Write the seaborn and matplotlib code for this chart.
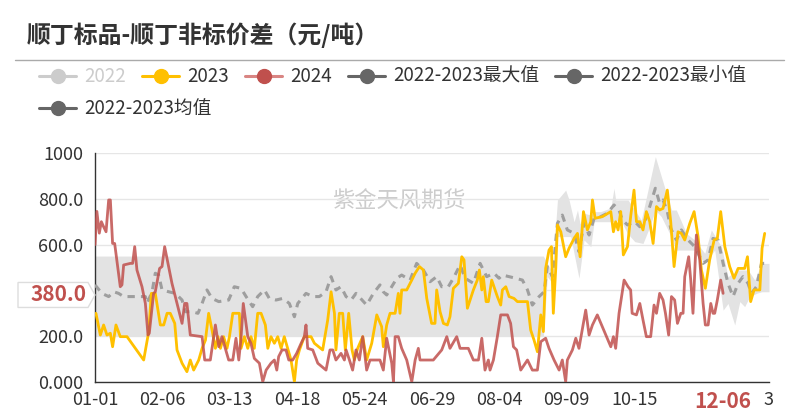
import numpy as np
import matplotlib
matplotlib.use('Agg')
import matplotlib.pyplot as plt
import matplotlib.transforms as mtransforms
from matplotlib.patches import Polygon
from matplotlib.lines import Line2D
import seaborn as sns
import pandas as pd

sns.set_theme(style='white')
plt.rcParams['font.family'] = ['Noto Sans CJK SC', 'DejaVu Sans']

# ---------------- data ----------------
title = '顺丁标品-顺丁非标价差（元/吨）'
watermark = '紫金天风期货'
x_tick_pos = [0, 36, 72, 108, 144, 180, 216, 252, 288, 324, 360]
x_tick_labels = ['01-01', '02-06', '03-13', '04-18', '05-24', '06-29', '08-04', '09-09', '10-15', '', '3']
y_ticks = [0, 200, 400, 600, 800, 1000]
y_tick_labels = ['0.000', '200.0', '', '600.0', '800.0', '1000']
pointer_x_label = '12-06'
pointer_x_pos = 335.5
pointer_y_value = 380.0
legend_names = ['2022', '2023', '2024', '2022-2023最大值', '2022-2023最小值', '2022-2023均值']

# (day index, value)
s2023 = [(0.5,300),(2.85,205),(4.6,249),(6.4,205),(8.2,213),(9.4,154),(11.2,249),(13.5,198),(17.1,198),(26,96),(28.7,220),(30.1,387),(32.2,387),(34.9,249),(36.7,249),(38.5,300),(40.2,300),(42.6,256),(43.8,140),(46.5,82),(49.1,45),(50.9,96),(52.7,52),(55.4,96),(57.2,147),(59,183),(60.7,300),(62.5,227),(64.3,147),(65.7,198),(67,147),(68.7,198),(70.5,147),(71.8,198),
         (73.6,300),(77.1,300),(78,147),(79.8,198),(81.6,147),(83.3,198),(85.1,147),(86.9,300),(88.7,300),(91,249),(92.3,147),(94,198),(95.8,169),(97.6,198),(99.4,147),(101.1,198),(102.9,147),(104.7,96),(106.5,1),(107.7,96),(109.2,140),(111.8,198),(115.4,198),(117.2,169),(121.6,140),(124.3,271),(126.1,394),(127.9,300),(128.7,140),(130.5,300),(132.3,300),(133.7,140),(135.5,300),(137.3,140),(138.5,96),(140.3,147),(143,198),
         (145.1,96),(147.8,169),(150.5,293),(153.1,242),(154,154),(155.8,249),(157.6,300),(160.3,300),(162,387),(162.9,300),(163.8,402),(166.5,402),(169.2,445),(171,475),(173.3,504),(175.4,489),(177.2,365),(179.8,256),(181.6,256),(182.5,402),(184.3,307),(186.1,256),(188.2,249),(189.6,285),(191.4,409),(194.1,431),(195.9,547),(197.1,533),(198.9,322),(202.1,402),(204.2,445),(205.3,489),(206.6,402),(207.4,460),(208.9,351),(210.1,351),(211.9,445),
         (213.1,416),(214.9,373),(216.7,336),(217.6,402),(219.4,416),(221.2,373),(223.8,365),(225.6,351),(231,351),(232.7,227),(234.5,183),(236.3,132),(238.1,293),(239.5,220),(240.7,496),(242.5,576),(243.8,591),(244.8,300),(246.1,496),(247,686),(248.8,656),(251.4,547),(253.2,584),(255.9,627),(257.7,649),(259.1,547),(260.9,744),(263,664),(264.8,700),(265.7,795),(267.1,715),(271,722),(275.5,744),(276.9,656),(278.1,700),(279.4,664),(280.8,744),(282.2,555),(284.4,591),(286.1,722),
         (287.9,838),(289.2,700),(291,700),(292.7,664),(294.5,744),(296.3,700),(298.1,605),(299.9,766),(301.6,751),(303.4,758),(305.7,838),(307.5,700),(309.3,504),(311.4,656),(313.2,649),(315,620),(317.7,693),(320,744),(322.1,635),(323.9,489),(326,409),(328.3,533),(330.7,620),(332.4,627),(334.2,744),(336.4,591),(339,504),(341.3,453),(343.5,496),(347,496),(348.5,547),(350.2,351),(352,402),(355.1,402),(356.3,584),(357.7,649)]

s2024 = [(0,600),(1,745),(2.3,650),(3.4,700),(4.6,678),(5.9,656),(7.3,795),(8.2,795),(9.4,605),(10.5,605),(13.5,416),(14.4,424),(15.3,511),(18.9,518),(20.1,518),(21.2,591),(22.4,489),(25.1,416),(26.9,343),(28.3,205),(29,213),(31.3,387),(32.2,394),(34.5,496),(35.8,504),(37.2,591),(41.1,431),(46.5,256),(47.9,343),(49.1,343),(50.9,205),(57.2,198),(58.6,96),(61.6,96),(64.3,249),(66.1,154),(67.8,198),(71.4,96),
         (73.6,96),(75.3,191),(76.8,96),(78,191),(79.2,343),(81.6,198),(83.3,169),(85.1,103),(87.8,82),(89.6,1),(91.4,52),(94,82),(95.8,96),(97.1,52),(98.1,111),(99.9,140),(102,140),(103.5,96),(105.6,96),(107.7,125),(110.1,169),(111.8,198),(112.7,249),(113.6,147),(116.3,140),(119,82),(123.4,52),(125.5,140),(127,140),(128.7,96),(131.4,125),(133.2,96),(134.1,140),(135.9,96),(137.6,52),(139.4,140),(141.2,96),(143,198),
         (145.1,52),(146.9,96),(152.2,96),(154,52),(155.8,191),(158.5,82),(159.4,1),(160.3,198),(162,198),(163.8,147),(166.5,96),(169.2,1),(171,96),(172.7,147),(173.6,96),(175.4,96),(180.7,96),(185.2,140),(187.9,198),(189.6,147),(193.2,198),(195,147),(199.4,147),(202.1,96),(204.8,96),(206.6,191),(208.3,52),(210.1,96),(211,52),(212.8,96),
         (214.9,198),(216.7,293),(220.3,293),(222,256),(223.5,154),(225.2,140),(227.4,52),(231,96),(233.6,52),(236.3,52),(238.1,176),(240.7,191),(242.5,147),(245.2,96),(247.9,52),(249.6,96),(251.4,1),(252.3,96),(255,140),(256.8,191),(258.5,147),(262.1,314),(263.9,205),(265.7,249),(268.3,293),(275.5,154),(276.9,198),(278.1,147),(279.9,300),(282.6,445),
         (284.7,416),(286.1,402),(286.9,300),(289.2,293),(291,343),(292.7,271),(294.5,198),(296.8,198),(298.6,336),(299.9,300),(301.6,387),(303.4,358),(304.7,300),(306.4,205),(307.9,373),(309.6,358),(311.1,256),(312.9,300),(314.1,300),(315,460),(317.1,547),(318.2,445),(319.4,300),(321.2,642),(323,533),(324.8,343),(326,249),(327.5,249),(328.9,343),(330.1,300),(331,300),(332.4,358),(334.2,445),(335.5,387)]

s_mean = [(0,424),(3.7,387),(7.3,373),(10,394),(12.6,387),(15.3,373),(20.7,373),(26.9,373),(27.8,343),(30.5,394),(32.2,475),(34,467),(35.8,402),(39.4,394),(42.9,387),(46.5,358),(48.3,307),(51.8,307),(55,300),(57.2,343),(59.8,402),(62.5,365),(66.1,351),(71.4,358),
          (74.4,416),(78,409),(80.7,373),(84.2,329),(86.9,373),(90.5,402),(93.1,365),(96.7,358),(100.3,365),(103.8,343),(106.5,285),(108.3,343),(112.7,387),(116.3,373),(119.8,373),(123.4,394),(126.1,460),(128.7,402),(131.4,416),(134.1,373),(136.8,358),(139.4,387),
          (145.1,336),(148.7,387),(152.2,424),(154,394),(155.8,380),(161.2,453),(163.8,467),(168.3,445),(171.8,518),(175.4,489),(179,438),(182.5,460),(185.2,416),(188.7,416),(191.4,453),(195,511),(197.7,453),(202.1,431),(205.7,518),(209.2,460),
          (213.1,475),(215.8,453),(217.6,467),(221.2,460),(224.7,453),(228.3,445),(231,402),(233.6,336),(237.2,373),(239.9,394),(241.6,504),(244.3,460),(247,693),(249.6,729),(252.3,664),(255.9,649),(258.5,569),(261.2,693),(263.9,642),(266.6,715),(270.1,722),(273.7,737),(277.2,773),(279.9,751),(281.7,707),(284.4,686),
          (288.3,700),(291,678),(293.6,700),(296.3,766),(299.3,846),(301.6,780),(303.4,795),(305.7,744),(307.5,671),(310.5,620),(313.2,664),(316.8,620),(320.3,591),(323,547),(324.8,518),(327.5,533),(330.1,627),(332.8,620),(335.5,518),(338.1,431),(340.8,373),(343.5,431),(346.1,460),(348.8,431),(350.6,387),(353.3,416),(356,518),(360,518)]

s_max = [(0,550),(239.5,550),(241.6,518),(244.3,480),(247,795),(251.4,838),(253.2,795),(255.9,700),(257.7,751),(259.1,690),(261.2,737),(264.8,729),(266.6,744),(270.1,744),(275.5,760),(277.2,846),(278.1,795),(284.7,795),(291.8,707),(299.3,984),(302.5,897),(307.9,751),(310.5,751),(315.9,649),(320.3,620),(325.7,562),(329.2,664),(334.6,591),(338.1,460),(343.5,489),(348.8,489),(352.4,445),(356,518),(360,518)]

s_min = [(0,200),(239.5,200),(241.6,460),(244.3,431),(247,635),(250.5,635),(254.1,635),(258.5,453),(261.2,620),(264.8,591),(266.6,700),(275.5,700),(280.8,707),(284.4,649),(288.3,613),(292.7,605),(296.3,678),(299.3,751),(302.5,722),(306.9,649),(310.5,576),(320.3,576),(325.7,518),(331,576),(335.5,314),(338.1,343),(341.7,249),(344.4,351),(347,329),(349.7,373),(353.3,387),(356,394),(360,394)]

# ---------------- figure ----------------
W, H = 799, 420
fig = plt.figure(figsize=(W / 100, H / 100), dpi=100)
ax = fig.add_axes([95 / W, (H - 382) / H, (769 - 95) / W, (382 - 153) / H])

def to_df(pairs):
    return pd.DataFrame(pairs, columns=['day', 'value'])

d23, d24, dmean, dmax, dmin = map(to_df, [s2023, s2024, s_mean, s_max, s_min])

# band between min and max
xs = np.union1d(dmax['day'].values, dmin['day'].values)
ax.fill_between(xs, np.interp(xs, dmin['day'], dmin['value']),
                np.interp(xs, dmax['day'], dmax['value']),
                color='#e3e3e3', lw=0, zorder=1)

sns.lineplot(data=dmean, x='day', y='value', ax=ax, color='#9e9e9e', linewidth=2.2,
             linestyle=(0, (2.4, 2.0)), estimator=None, zorder=3)
sns.lineplot(data=d23, x='day', y='value', ax=ax, color='#FFC000', linewidth=2.0,
             estimator=None, zorder=4)
sns.lineplot(data=d24, x='day', y='value', ax=ax, color='#c0504d', alpha=0.85, linewidth=2.0,
             estimator=None, zorder=5)

ax.set_xlim(0, 360)
ax.set_ylim(0, 1000)
ax.set_xlabel('')
ax.set_ylabel('')
ax.set_xticks(x_tick_pos)
ax.set_xticklabels(x_tick_labels)
ax.set_yticks(y_ticks)
ax.set_yticklabels(y_tick_labels)
ax.tick_params(axis='both', direction='out', length=3.6, width=1, color='#333333',
               labelcolor='#333333', labelsize=13)
ax.tick_params(axis='x', pad=3)
ax.tick_params(axis='y', pad=5)
ax.yaxis.grid(True, color='#e6e6e6', lw=1)
ax.xaxis.grid(False)
ax.set_axisbelow(True)
for s in ['top', 'right']:
    ax.spines[s].set_visible(False)
for s in ['left', 'bottom']:
    ax.spines[s].set_color('#333333')
    ax.spines[s].set_linewidth(1)
ax.set_facecolor('white')

# watermark
ax.text(0.45, 0.79, watermark, transform=ax.transAxes, ha='center', va='center',
        fontsize=16, color='#cccccc', zorder=0.5)

# title + separator
fig.text(27 / W, 1 - 35 / H, title, fontsize=17.2, fontweight='bold', color='#333333',
         va='center', ha='left')
fig.add_artist(Line2D([15 / W, 784 / W], [1 - 60 / H] * 2, color='#aaaaaa', lw=1))

# legend (manual, echarts style)
legend_style = [
    ('#cccccc', '#cccccc', '#cccccc'),
    ('#FFC000', '#FFC000', '#333333'),
    ('#d98583', '#c0504d', '#333333'),
    ('#666666', '#666666', '#333333'),
    ('#666666', '#666666', '#333333'),
    ('#666666', '#666666', '#333333'),
]
legend_pos = [(39, 76), (142, 76), (245, 76), (348, 76), (555, 76), (39, 108)]
for name, (lc, mc, tc), (px, py) in zip(legend_names, legend_style, legend_pos):
    yy = 1 - py / H
    fig.add_artist(Line2D([px / W, (px + 37) / W], [yy, yy], color=lc, lw=2.2))
    fig.add_artist(Line2D([(px + 18.5) / W], [yy], marker='o', markersize=10, color=mc, lw=0))
    fig.text((px + 45) / W, yy, name, fontsize=13.5, color=tc, va='center', ha='left')

# y-axis pointer label
tr = mtransforms.blended_transform_factory(fig.transFigure, ax.transData)
hh = 12.5 / 229 * 1000
poly = Polygon([(18 / W, pointer_y_value - hh), (88 / W, pointer_y_value - hh),
                (95 / W, pointer_y_value), (88 / W, pointer_y_value + hh),
                (18 / W, pointer_y_value + hh)], closed=True, transform=tr,
               facecolor='white', edgecolor='#dddddd', lw=1, clip_on=False, zorder=10)
fig.add_artist(poly)
fig.text(87 / W, pointer_y_value, f'{pointer_y_value:.1f}', transform=tr, fontsize=15,
         fontweight='bold', color='#c0504d', ha='right', va='center', zorder=11)

# x-axis pointer label
trx = mtransforms.blended_transform_factory(ax.transData, fig.transFigure)
fig.text(pointer_x_pos, 1 - 402 / H, pointer_x_label, transform=trx, fontsize=15,
         fontweight='bold', color='#c0504d', ha='center', va='center')

fig.savefig('out.png', dpi=100)
